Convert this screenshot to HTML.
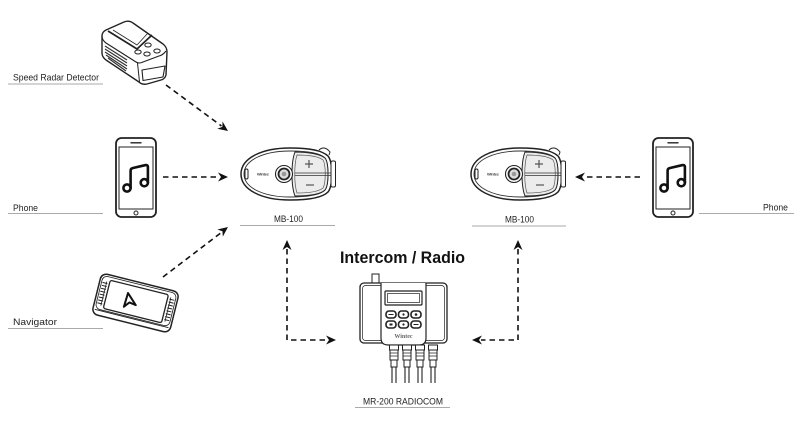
<!DOCTYPE html>
<html><head><meta charset="utf-8"><style>
html,body{margin:0;padding:0;background:#fff;width:800px;height:427px;overflow:hidden}
svg{display:block}
text{font-family:"Liberation Sans",sans-serif;fill:#222}
</style></head><body>
<svg width="800" height="427" viewBox="0 0 800 427" xmlns="http://www.w3.org/2000/svg">
<defs>
<g id="mb">
  <path d="M3,28 C3,12 24,2 52,2 C70,2 84,4 90,10 C95,16 95,40 90,46 C84,52 70,54 52,54 C24,54 3,44 3,28 Z" fill="#fff" stroke="#222" stroke-width="1.5"/>
  <path d="M6,28 C6,14 26,5 52,5 C69,5 82,7 87,12 C91,17 91,39 87,44 C82,49 69,51 52,51 C26,51 6,42 6,28 Z" fill="none" stroke="#333" stroke-width="0.9"/>
  <path d="M57,6 C70,6 82,8 87,12 C91,17 91,39 87,44 C82,49 70,50 57,50 C53,40 53,16 57,6 Z" fill="#ececec" stroke="#222" stroke-width="1"/>
  <path d="M59,9 C70,9 80,10 85,14 C88,19 88,37 85,42 C80,46 70,47 59,47 C56,38 56,18 59,9 Z" fill="none" stroke="#555" stroke-width="0.7"/>
  <path d="M57,27 L96,27 M57,29.5 L96,29.5" stroke="#333" stroke-width="0.8"/>
  <path d="M71,14 V22 M67,18 H75" stroke="#555" stroke-width="1.2"/>
  <path d="M68,39 H76" stroke="#555" stroke-width="1.2"/>
  <circle cx="46" cy="28" r="8.5" fill="#fff" stroke="#222" stroke-width="1.1"/>
  <circle cx="46" cy="28" r="5.5" fill="#ddd" stroke="#222" stroke-width="1.8"/>
  <circle cx="46" cy="28" r="2.3" fill="#999"/>
  <text x="19" y="29.5" font-size="4" font-weight="bold" textLength="12" style="fill:#444">Wintec</text>
  <rect x="7" y="23" width="3" height="10" rx="1.5" fill="none" stroke="#222" stroke-width="1"/>
  <path d="M81,4 C84,1 88,1 92,6 L91,9" fill="#fff" stroke="#222" stroke-width="1"/>
  <rect x="93" y="15" width="4.5" height="26" rx="1.5" fill="#fff" stroke="#222" stroke-width="1"/>
</g>
<g id="phone">
  <rect x="0" y="0" width="40" height="79" rx="5.5" fill="#fff" stroke="#222" stroke-width="1.8"/>
  <rect x="3" y="9" width="34" height="62" fill="none" stroke="#222" stroke-width="1"/>
  <path d="M15,4.8 H25" stroke="#222" stroke-width="1.4" stroke-linecap="round"/>
  <circle cx="20" cy="75" r="2" fill="none" stroke="#222" stroke-width="1"/>
  <g fill="none" stroke="#111" stroke-width="2.6" stroke-linecap="round" stroke-linejoin="round">
    <circle cx="11" cy="50" r="3.6"/>
    <circle cx="28.3" cy="44.7" r="3.6"/>
    <path d="M14.6,50 V32.5 Q14.6,30.5 17,30 L29,27.2 Q31.9,26.6 31.9,29 V44.7"/>
  </g>
</g>
<path id="ah" d="M0,0 L-10,-4.5 L-7,0 L-10,4.5 Z" fill="#111"/>
</defs>

<!-- Speed radar detector -->
<g stroke="#222" stroke-linejoin="round">
  <path d="M102,36 Q102,32 106,30 L124,22 Q129,20 133,23 L163,44 Q167,47 167,52 L166,75 Q165,79 161,80 L147,84 Q142,85 139,82 L106,60 Q102,57 102,53 Z" fill="#fff" stroke-width="1.4"/>
  <path d="M102,36 Q102,40 106,43 L136,62 Q139,64 143,62 L159,56 Q163,55 166,51" fill="none" stroke-width="1.1"/>
  <path d="M137.5,63 L139.5,82" fill="none" stroke-width="1"/>
  <path d="M142,70 L165,66 L163,77 L143,80.5 Z" fill="#fff" stroke-width="1.1"/>
  <path d="M108,31 L137,49 L152,35" fill="none" stroke-width="1.7"/>
  <path d="M113,30 L137,45 L148,33" fill="none" stroke-width="0.8"/>
  <ellipse cx="148" cy="45" rx="3.2" ry="2" fill="#fff" stroke-width="1"/>
  <ellipse cx="138" cy="52" rx="3.2" ry="2" fill="#fff" stroke-width="1"/>
  <ellipse cx="147" cy="54" rx="3.2" ry="2" fill="#fff" stroke-width="1"/>
  <ellipse cx="157" cy="51" rx="3.2" ry="2" fill="#fff" stroke-width="1"/>
  <path d="M105,46 L127,60 M105,49 L127,63 M105,52 L127,66 M106,55 L127,69 M108,58 L126,71" stroke="#333" stroke-width="1.2"/>
</g>

<!-- Navigator -->
<g transform="translate(135.5,303) rotate(14)" stroke="#222">
  <rect x="-40" y="-21" width="80" height="42" rx="6" fill="#fff" stroke-width="1.5"/>
  <rect x="-38" y="-19" width="76" height="34" rx="5" fill="none" stroke-width="0.8"/>
  <path d="M-38,16 H38" stroke-width="0.9"/>
  <rect x="-30" y="-16" width="60" height="29" rx="2" fill="none" stroke-width="1.3"/>
  <path d="M-37,-12 H-32 M-37,-9 H-32 M-37,-6 H-32 M-37,-3 H-32 M-37,0 H-32 M-37,3 H-32 M-37,6 H-32 M-37,9 H-32 M32,-12 H37 M32,-9 H37 M32,-6 H37 M32,-3 H37 M32,0 H37 M32,3 H37 M32,6 H37 M32,9 H37" stroke-width="1"/>
  <path d="M-33,-14 V11 M33,-14 V11" stroke-width="0.8"/>
</g>
<path d="M129,293 L135,306 L129,302.5 L123,306 Z" transform="rotate(-8 129 300)" fill="none" stroke="#111" stroke-width="2" stroke-linejoin="round"/>

<!-- Phones -->
<use href="#phone" x="116" y="138"/>
<use href="#phone" x="653" y="138"/>

<!-- MB-100 units -->
<use href="#mb" x="238" y="146"/>
<use href="#mb" x="468" y="146"/>

<!-- MR-200 box -->
<g stroke="#222">
  <rect x="372" y="274" width="7" height="10" fill="#fff" stroke-width="1"/>
  <rect x="360" y="283" width="87" height="60" rx="4" fill="#fff" stroke-width="1.3"/>
  <rect x="362.5" y="285.5" width="82" height="55" rx="3" fill="none" stroke-width="0.7"/>
  <path d="M381,283 V338 Q381,345 388,345 H419 Q426,345 426,338 V283" fill="#fff" stroke-width="1.2"/>
  <rect x="385" y="291" width="37" height="14" rx="1" fill="#fff" stroke-width="1.2"/>
  <rect x="387.5" y="293.5" width="32" height="9" fill="none" stroke-width="0.7"/>
  <g fill="#fff" stroke-width="1.6">
    <rect x="386" y="311" width="10" height="7" rx="3"/>
    <rect x="398.5" y="311" width="10" height="7" rx="3"/>
    <rect x="411" y="311" width="10" height="7" rx="3"/>
    <rect x="386" y="321" width="10" height="7" rx="3"/>
    <rect x="398.5" y="321" width="10" height="7" rx="3"/>
    <rect x="411" y="321" width="10" height="7" rx="3"/>
  </g>
  <g fill="#222" stroke="none">
    <rect x="388.5" y="314" width="5" height="1"/>
    <circle cx="403.5" cy="314.5" r="1.1"/>
    <circle cx="416" cy="314.5" r="1.3"/>
    <rect x="389.5" y="323.5" width="3" height="2"/>
    <circle cx="403.5" cy="324.5" r="1.1"/>
    <rect x="413.5" y="324" width="5" height="1"/>
  </g>
  <text x="403.5" y="338" font-size="6" font-weight="bold" text-anchor="middle" stroke="none" style="fill:#666;font-family:'Liberation Serif',serif">Wintec</text>
</g>
<g stroke="#222" fill="#fff">
  <g id="gl">
    <rect x="389.5" y="345" width="9" height="5" stroke-width="1"/>
    <rect x="390" y="350" width="8" height="10" stroke-width="1"/>
    <path d="M390,353 H398 M390,356 H398" stroke-width="0.8"/>
    <rect x="391" y="360" width="6" height="7" stroke-width="1"/>
    <path d="M392,367 V383 M396,367 V383" stroke-width="1.1"/>
  </g>
  <use href="#gl" x="13"/>
  <use href="#gl" x="26"/>
  <use href="#gl" x="39"/>
</g>

<!-- Connectors -->
<g fill="none" stroke="#111" stroke-width="1.6" stroke-dasharray="5.5 4">
  <path d="M166,85 L221.5,126"/>
  <path d="M163,277 L222,232"/>
  <path d="M163,177 H219"/>
  <path d="M640,177 H584"/>
  <path d="M287,249 V340 H327"/>
  <path d="M518,249 V340 H481"/>
</g>
<use href="#ah" transform="translate(228,131) rotate(36)"/>
<use href="#ah" transform="translate(228,227) rotate(-37.6)"/>
<use href="#ah" transform="translate(228,177)"/>
<use href="#ah" transform="translate(575,177) rotate(180)"/>
<use href="#ah" transform="translate(287,240) rotate(-90)"/>
<use href="#ah" transform="translate(518,240) rotate(-90)"/>
<use href="#ah" transform="translate(336,340)"/>
<use href="#ah" transform="translate(472,340) rotate(180)"/>

<!-- Labels & underlines -->
<g stroke="#aaa" stroke-width="1">
  <path d="M8,84 H103"/>
  <path d="M8,213.5 H103"/>
  <path d="M8,328.5 H103"/>
  <path d="M240,225.5 H335"/>
  <path d="M472,226 H566"/>
  <path d="M699,213.5 H794"/>
  <path d="M355,407.5 H450"/>
</g>
<g font-size="9.5">
  <text x="13" y="80.5" textLength="86" lengthAdjust="spacingAndGlyphs">Speed Radar Detector</text>
  <text x="13" y="211" textLength="25" lengthAdjust="spacingAndGlyphs">Phone</text>
  <text x="13" y="325" textLength="44" lengthAdjust="spacingAndGlyphs">Navigator</text>
  <text x="274" y="222" textLength="29" lengthAdjust="spacingAndGlyphs">MB-100</text>
  <text x="505" y="222.5" textLength="29" lengthAdjust="spacingAndGlyphs">MB-100</text>
  <text x="763" y="210.5" textLength="25" lengthAdjust="spacingAndGlyphs">Phone</text>
  <text x="363" y="404.5" textLength="80" lengthAdjust="spacingAndGlyphs">MR-200 RADIOCOM</text>
</g>
<text x="340" y="263" font-size="17" font-weight="bold" textLength="125" lengthAdjust="spacingAndGlyphs" style="fill:#111">Intercom / Radio</text>
</svg>
</body></html>
